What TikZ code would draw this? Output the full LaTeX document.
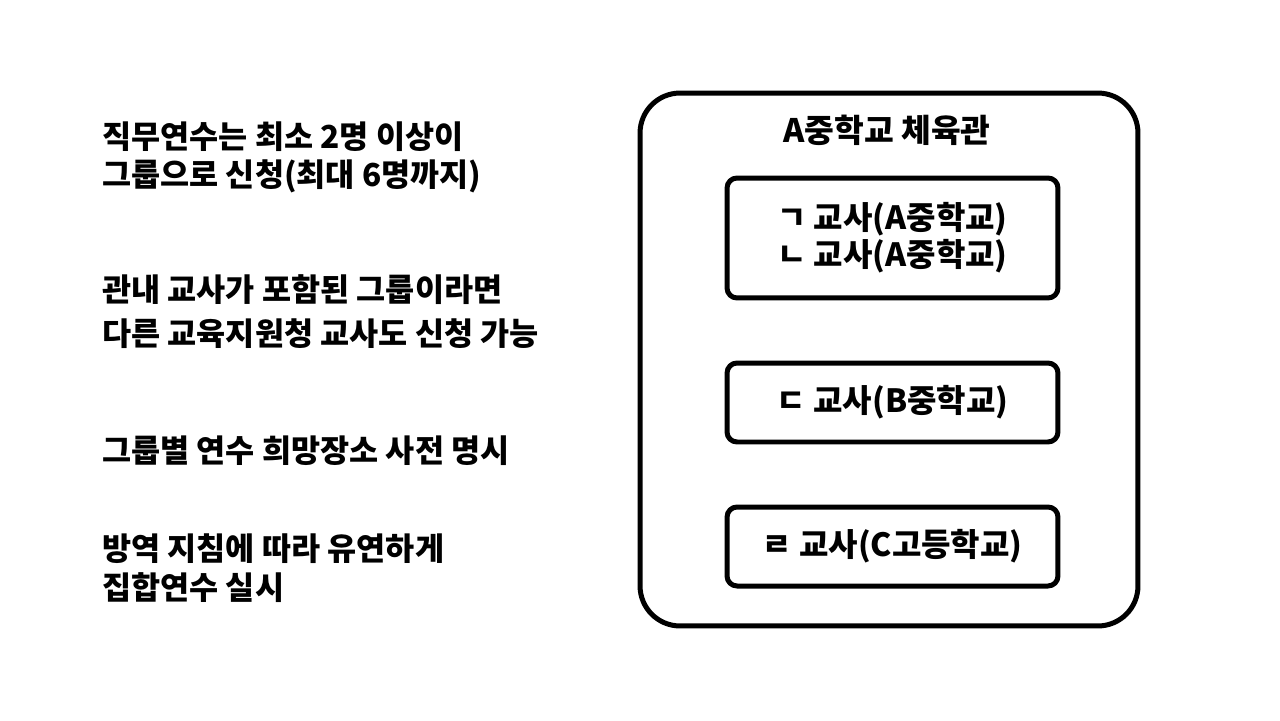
\documentclass[tikz,border=0pt]{standalone}
\usepackage{fontspec}
\setmainfont{Noto Sans CJK KR}
\usetikzlibrary{positioning}

\tikzset{
  note/.style={anchor=west, align=left, inner sep=0pt,
    font=\fontsize{18}{#1}\selectfont\bfseries},
  note/.default=22pt,
  hall/.style={draw, line width=0.1cm, rounded corners=0.8cm,
    minimum width=9.96cm, minimum height=10.66cm, outer sep=0pt},
  teacher/.style={draw, line width=0.1cm, rounded corners=0.2cm,
    minimum width=6.62cm, minimum height=1.58cm, align=center,
    font=\fontsize{18.2}{21}\selectfont\bfseries}
}

\begin{document}
\begin{tikzpicture}[x=0.02cm,y=-0.02cm]
  \useasboundingbox (0,0) rectangle (1280,720);

  % left side
  \node[note=21.5pt] (apply) at (102,157) {직무연수는 최소 2명 이상이\\그룹으로 신청(최대 6명까지)};
  \node[note=25pt] (office) at (102,312) {관내 교사가 포함된 그룹이라면\\다른 교육지원청 교사도 신청 가능};
  \node[note] (place) at (102,451) {그룹별 연수 희망장소 사전 명시};
  \node[note=22.5pt] (safety) at (102,568) {방역 지침에 따라 유연하게\\집합연수 실시};

  % right side
  \node[hall] (gym) at (889,359.5) {};
  \node[font=\fontsize{18.4}{22}\selectfont\bfseries] (gymname) at (887,130) {A중학교 체육관};
  \node[teacher, minimum height=2.4cm] (groupA) at (892.5,238) {ㄱ 교사(A중학교)\\ㄴ 교사(A중학교)};
  \node[teacher] (teacherB) at (892.5,402.5) {ㄷ 교사(B중학교)};
  \node[teacher] (teacherC) at (892.5,546.5) {ㄹ 교사(C고등학교)};
\end{tikzpicture}
\end{document}
